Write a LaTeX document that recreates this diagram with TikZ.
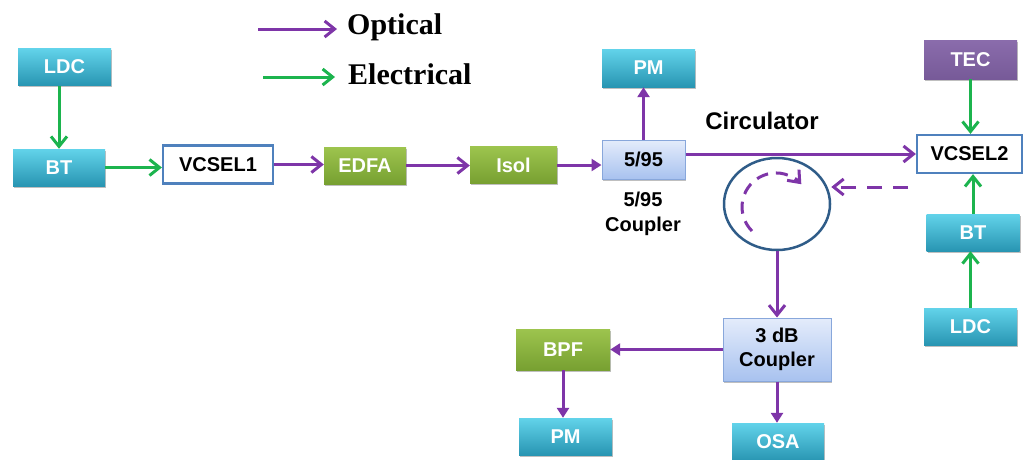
\documentclass[tikz,border=0pt]{standalone}
\usepackage{fontspec}
\setmainfont{Liberation Sans}
\newfontfamily\serifb{Liberation Serif}
\usetikzlibrary{arrows.meta,shapes.geometric,shadows}
\definecolor{tealT}{HTML}{62D3EA}
\definecolor{tealM}{HTML}{34AFCB}
\definecolor{tealB}{HTML}{2895B2}
\definecolor{grnT}{HTML}{9DC44E}
\definecolor{grnB}{HTML}{77A031}
\definecolor{purpT}{HTML}{8A6CAC}
\definecolor{purpB}{HTML}{775A98}
\definecolor{lbT}{HTML}{E4ECFB}
\definecolor{lbB}{HTML}{A8C2EF}
\definecolor{lbD}{HTML}{88A7DB}
\definecolor{vcb}{HTML}{4F81BD}
\definecolor{optc}{HTML}{7E35A8}
\definecolor{elc}{HTML}{1CB44E}
\definecolor{circc}{HTML}{2F5C88}
\tikzset{
  box/.style={rectangle, inner sep=0pt, align=center,
    font=\fontsize{20}{24}\selectfont\bfseries},
  shad/.style={drop shadow={shadow xshift=1.2pt, shadow yshift=-1.5pt, opacity=0.25, fill=black}},
  tealbox/.style={box, shad, top color=tealT, middle color=tealM, bottom color=tealB, text=white,
    minimum width=93pt, minimum height=37pt},
  grnbox/.style={box, shad, top color=grnT, bottom color=grnB, text=white, minimum height=37pt},
  tecbox/.style={box, shad, top color=purpT, bottom color=purpB, text=white},
  lbbox/.style={box, shad, top color=lbT, bottom color=lbB, draw=lbD, line width=1pt, text=black},
  vcbox/.style={box, fill=white, draw=vcb, line width=2.2pt, text=black,
    minimum width=110pt, minimum height=38pt},
  opt/.style={draw=optc, line width=3pt, -{Straight Barb[length=10pt,width=16pt]}},
  optt/.style={draw=optc, line width=3pt, -{Triangle[length=10pt,width=12pt]}},
  ele/.style={draw=elc, line width=3pt, -{Straight Barb[length=10pt,width=16pt]}},
  lbl/.style={font=\fontsize{20}{25}\selectfont\bfseries, align=center, inner sep=0pt},
  legtxt/.style={font=\serifb\fontsize{30}{32}\selectfont\bfseries, anchor=west, inner sep=0pt}
}
\begin{document}
\begin{tikzpicture}[x=1pt,y=-1pt]
\useasboundingbox[fill=white] (0,0) rectangle (1024,459);
% legend
\coordinate (lo1) at (258,29);
\coordinate (lo2) at (337,29);
\coordinate (le1) at (263,77);
\coordinate (le2) at (335,77);
\draw[opt] (lo1) -- (lo2);
\draw[ele] (le1) -- (le2);
\node[legtxt] (lopt) at (347,27) {Optical};
\node[legtxt] (lele) at (348,74) {Electrical};
% left chain
\node[tealbox] (ldc1) at (64.5,67) {LDC};
\node[tealbox, minimum width=92pt] (bt1) at (59,167.5) {BT};
\node[vcbox] (vcsel1) at (218,164.5) {VCSEL1};
\node[grnbox, minimum width=82pt] (edfa) at (365,165.5) {EDFA};
\node[grnbox, minimum width=87pt] (isol) at (513.5,165) {Isol};
\node[lbbox, minimum width=83pt, minimum height=39pt] (c595) at (643.5,159.5) {5/95};
\node[tealbox, minimum height=38pt] (pm1) at (648.5,68) {PM};
\node[lbl] (c595lbl) at (643,214) {5/95\\Coupler};
% right column
\node[vcbox, minimum width=105pt] (vcsel2) at (969.5,154) {VCSEL2};
\node[tecbox, minimum width=93pt, minimum height=39pt] (tec) at (970.5,59.5) {TEC};
\node[tealbox] (bt2) at (973,232.5) {BT};
\node[tealbox] (ldc2) at (970.5,326.5) {LDC};
% circulator
\node[ellipse, draw=circc, line width=2.5pt, minimum width=106pt, minimum height=92pt, inner sep=0pt] (circ) at (777,204) {};
\node[lbl, font=\fontsize{24}{26}\selectfont\bfseries] (circlbl) at (762,121) {Circulator};
% bottom
\node[lbbox, minimum width=108pt, minimum height=63pt] (cp3) at (777,349.5) {3 dB\\Coupler};
\node[grnbox, minimum width=94pt, minimum height=41pt] (bpf) at (563,349.5) {BPF};
\node[tealbox] (pm2) at (565.5,436.5) {PM};
\node[tealbox, minimum width=92pt, minimum height=38pt] (osa) at (778,442) {OSA};
% connectors
\draw[ele] (ldc1.south -| bt1.north) -- (bt1.north);
\draw[ele] (bt1.east) -- (bt1.east -| vcsel1.west);
\draw[opt] (vcsel1.east) -- (vcsel1.east -| edfa.west);
\draw[opt] (edfa.east) -- (edfa.east -| isol.west);
\draw[optt] (isol.east) -- (isol.east -| c595.west);
\draw[optt] (c595.north) -- (c595.north |- pm1.south);
\draw[opt] (vcsel2.west -| c595.east) -- (vcsel2.west);
\draw[ele] (tec.south) -- (tec.south |- vcsel2.north);
\draw[ele] (bt2.north) -- (bt2.north |- vcsel2.south);
\draw[ele] (ldc2.north) -- (ldc2.north |- bt2.south);
\coordinate (dash0) at (908,187);
\draw[opt, dash pattern=on 15pt off 11pt] (dash0) -- (dash0 -| circ.east);
\draw[opt, dash pattern=on 12pt off 8pt] (752,231) arc[start angle=135, end angle=318, radius=34];
\draw[opt] (circ.south) -- (circ.south |- cp3.north);
\draw[optt] (cp3.west) -- (cp3.west -| bpf.east);
\draw[optt] (bpf.south) -- (bpf.south |- pm2.north);
\draw[optt] (cp3.south) -- (cp3.south |- osa.north);
\end{tikzpicture}
\end{document}
